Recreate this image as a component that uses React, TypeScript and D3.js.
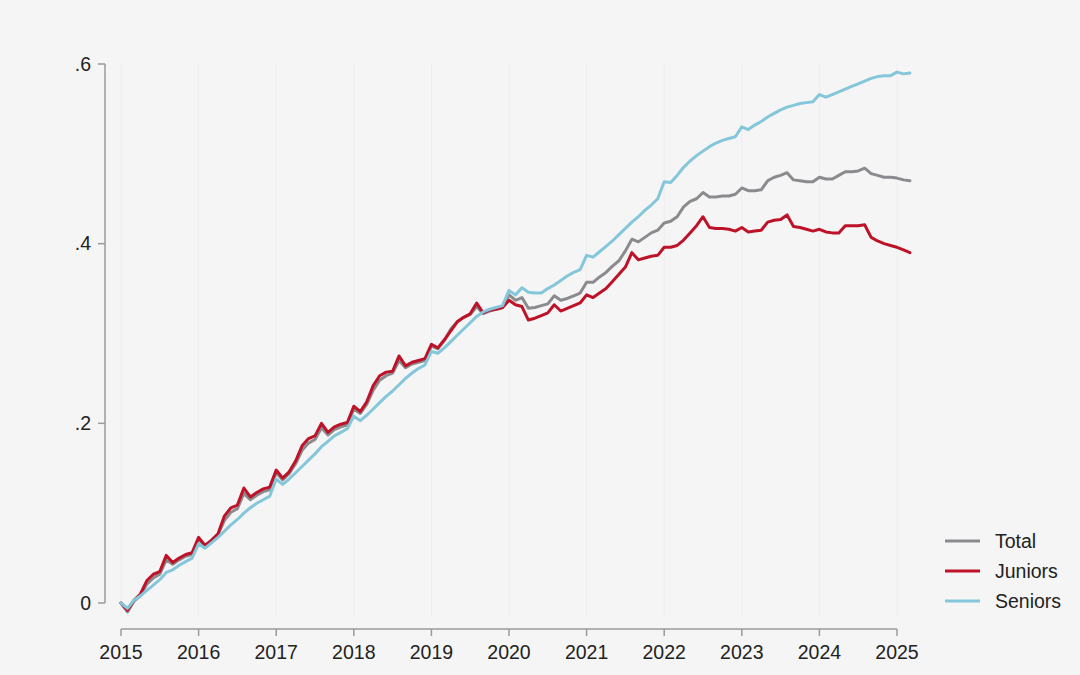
import React from "react";
import * as d3 from "d3";

// monthly series, Jan 2015 .. Mar 2025
const START_YEAR = 2015;
const yearTicks = [2015, 2016, 2017, 2018, 2019, 2020, 2021, 2022, 2023, 2024, 2025];
const valueTicks = [0, 0.2, 0.4, 0.6];
const seriesNames = ["Total", "Juniors", "Seniors"];

const total = [
  0, -0.01, 0.002, 0.008, 0.021, 0.028, 0.032, 0.048, 0.043, 0.048, 0.052, 0.054,
  0.071, 0.063, 0.069, 0.076, 0.092, 0.101, 0.105, 0.122, 0.115, 0.12, 0.124, 0.126,
  0.145, 0.137, 0.144, 0.155, 0.17, 0.178, 0.182, 0.195, 0.187, 0.193, 0.196, 0.198,
  0.216, 0.211, 0.221, 0.237, 0.248, 0.253, 0.256, 0.27, 0.262, 0.266, 0.268, 0.27,
  0.286, 0.283, 0.292, 0.305, 0.313, 0.318, 0.321, 0.33, 0.322, 0.325, 0.327, 0.329,
  0.343, 0.337, 0.34, 0.328, 0.329, 0.331, 0.333, 0.342, 0.337, 0.339, 0.342, 0.345,
  0.357, 0.357, 0.363, 0.368, 0.375, 0.381, 0.392, 0.405, 0.402, 0.407, 0.412, 0.415,
  0.423, 0.425, 0.43, 0.441, 0.447, 0.45, 0.457, 0.452, 0.452, 0.453, 0.453, 0.455,
  0.462, 0.459, 0.459, 0.46, 0.47, 0.474, 0.476, 0.479, 0.471, 0.47, 0.469, 0.469,
  0.474, 0.472, 0.472, 0.476, 0.48, 0.48, 0.481, 0.484, 0.478, 0.476, 0.474, 0.474,
  0.473, 0.471, 0.47,
];

const juniors = [
  0, -0.008, 0.003, 0.01, 0.025, 0.032, 0.035, 0.053, 0.045, 0.05, 0.054, 0.056,
  0.073, 0.064, 0.07, 0.077, 0.097, 0.106, 0.109, 0.128, 0.118, 0.123, 0.127, 0.129,
  0.148, 0.139, 0.146, 0.158, 0.175, 0.183, 0.186, 0.2, 0.19, 0.196, 0.199, 0.201,
  0.219, 0.213, 0.224, 0.242, 0.253, 0.257, 0.258, 0.275, 0.264, 0.268, 0.27, 0.272,
  0.288, 0.284, 0.293, 0.303, 0.313, 0.318, 0.322, 0.334, 0.323, 0.326, 0.327, 0.329,
  0.337, 0.332, 0.33, 0.315, 0.317, 0.32, 0.323, 0.332, 0.325, 0.328, 0.331, 0.334,
  0.343, 0.34, 0.345, 0.35, 0.358, 0.366, 0.374, 0.39, 0.382, 0.384, 0.386, 0.387,
  0.396, 0.396, 0.398, 0.404, 0.412, 0.42, 0.43, 0.418, 0.417, 0.417, 0.416, 0.414,
  0.418, 0.413, 0.414, 0.415, 0.424, 0.426, 0.427, 0.432, 0.419, 0.418, 0.416, 0.414,
  0.416, 0.413, 0.412, 0.412, 0.42, 0.42, 0.42, 0.421, 0.407, 0.403, 0.4, 0.398,
  0.396, 0.393, 0.39,
];

const seniors = [
  0, -0.006, 0.003, 0.008, 0.014, 0.02, 0.026, 0.034, 0.037, 0.042, 0.046, 0.05,
  0.066, 0.061, 0.067, 0.073, 0.08, 0.087, 0.093, 0.1, 0.106, 0.111, 0.115, 0.119,
  0.138, 0.132, 0.138, 0.145, 0.152, 0.159, 0.166, 0.174, 0.18, 0.186, 0.19, 0.194,
  0.208, 0.203, 0.209, 0.216, 0.223, 0.23, 0.236, 0.243, 0.25, 0.256, 0.261, 0.265,
  0.28, 0.278, 0.284, 0.291, 0.298, 0.305, 0.312, 0.319, 0.324, 0.327, 0.329, 0.331,
  0.348, 0.343, 0.351, 0.346, 0.345, 0.345, 0.35, 0.354, 0.359, 0.364, 0.368, 0.371,
  0.387, 0.385, 0.391, 0.397, 0.403, 0.41, 0.417, 0.424, 0.43, 0.437, 0.443, 0.45,
  0.469, 0.468, 0.476, 0.485, 0.492, 0.498, 0.503, 0.508, 0.512, 0.515, 0.517, 0.519,
  0.53, 0.527, 0.532, 0.536, 0.541, 0.545, 0.549, 0.552, 0.554, 0.556, 0.557, 0.558,
  0.566, 0.563, 0.566, 0.569, 0.572, 0.575, 0.578, 0.581, 0.584, 0.586, 0.587, 0.587,
  0.591, 0.589, 0.59,
];

const colors: Record<string, string> = {
  Total: "#8b8b8f",
  Juniors: "#be1229",
  Seniors: "#84c6da",
};

const W = 1080;
const H = 675;
const FONT = "'Liberation Sans', Arial, sans-serif";

export default function App() {
  const x = d3.scaleLinear().domain([2015, 2025]).range([121, 897]);
  const y = d3.scaleLinear().domain([0, 0.6]).range([603, 64]);

  const line = d3
    .line<number>()
    .x((_, i) => x(START_YEAR + i / 12))
    .y((d) => y(d));

  const data: Record<string, number[]> = { Total: total, Juniors: juniors, Seniors: seniors };
  const fmt = (v: number) => (v === 0 ? "0" : d3.format(".1f")(v).replace(/^0/, ""));

  const axisColor = "#9a9a9a";
  const axisX = 105;
  const axisY = 629;

  return (
    <svg
      width={W}
      height={H}
      style={{ position: "absolute", left: 0, top: 0, background: "#f6f5f5" }}
    >
      <rect width={W} height={H} fill="#f6f5f5" />

      {/* faint gridlines */}
      {yearTicks.map((t) => (
        <line key={"g" + t} x1={x(t)} x2={x(t)} y1={y(0.6)} y2={y(0) + 14} stroke="#efeeee" strokeWidth={1} />
      ))}

      {/* y axis */}
      <line x1={axisX} x2={axisX} y1={y(0.6)} y2={y(0)} stroke={axisColor} strokeWidth={1.5} />
      {valueTicks.map((t) => (
        <g key={"y" + t}>
          <line x1={axisX - 7} x2={axisX} y1={y(t)} y2={y(t)} stroke={axisColor} strokeWidth={1.5} />
          <text
            x={axisX - 14}
            y={y(t)}
            dy="0.35em"
            textAnchor="end"
            fontFamily={FONT}
            fontSize={19.5}
            fill="#222"
          >
            {fmt(t)}
          </text>
        </g>
      ))}

      {/* x axis */}
      <line x1={x(2015)} x2={x(2025)} y1={axisY} y2={axisY} stroke={axisColor} strokeWidth={1.5} />
      {yearTicks.map((t) => (
        <g key={"x" + t}>
          <line x1={x(t)} x2={x(t)} y1={axisY} y2={axisY + 7} stroke={axisColor} strokeWidth={1.5} />
          <text
            x={x(t)}
            y={axisY + 23}
            dy="0.35em"
            textAnchor="middle"
            fontFamily={FONT}
            fontSize={19.5}
            fill="#222"
          >
            {t}
          </text>
        </g>
      ))}

      {/* series */}
      {seriesNames.map((name) => (
        <path
          key={name}
          d={line(data[name]) || ""}
          fill="none"
          stroke={colors[name]}
          strokeWidth={3}
          strokeLinejoin="round"
          strokeLinecap="round"
        />
      ))}

      {/* legend */}
      {seriesNames.map((name, i) => (
        <g key={"l" + name} transform={`translate(945, ${541 + i * 30})`}>
          <line x1={0} x2={35} y1={0} y2={0} stroke={colors[name]} strokeWidth={3} />
          <text x={50} y={0} dy="0.35em" fontFamily={FONT} fontSize={19.5} fill="#222">
            {name}
          </text>
        </g>
      ))}
    </svg>
  );
}
